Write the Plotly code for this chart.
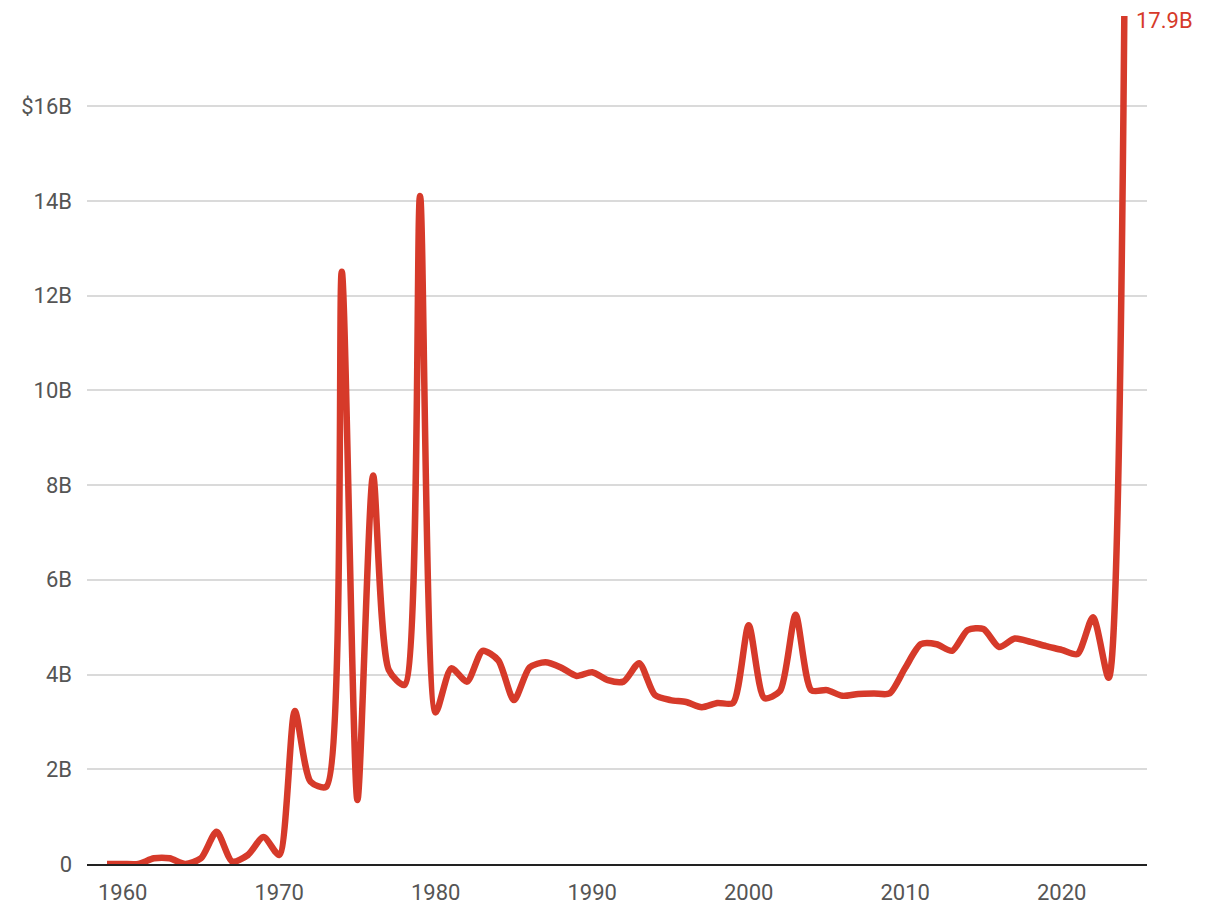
import plotly.graph_objects as go

years = list(range(1959, 2025))
values_b = [
    0.0, 0.0, 0.0, 0.12, 0.12, 0.0, 0.12, 0.68, 0.05, 0.19,
    0.57, 0.19, 3.23, 1.74, 1.63, 12.5, 1.35, 8.2, 4.1, 3.78,
    14.1, 3.2, 4.13, 3.85, 4.5, 4.3, 3.46, 4.15, 4.26, 4.15,
    3.97, 4.05, 3.88, 3.85, 4.24, 3.57, 3.46, 3.42, 3.31, 3.4,
    3.4, 5.04, 3.5, 3.65, 5.26, 3.67, 3.67, 3.55, 3.59, 3.6,
    3.6, 4.14, 4.64, 4.64, 4.5, 4.94, 4.96, 4.58, 4.76, 4.69,
    4.6, 4.52, 4.43, 5.21, 3.93, 17.9,
]
y_tickvals = [0, 2, 4, 6, 8, 10, 12, 14, 16]
y_ticktext = ["0", "2B", "4B", "6B", "8B", "10B", "12B", "14B", "$16B"]
x_tickvals = [1960, 1970, 1980, 1990, 2000, 2010, 2020]
last_label = "17.9B"

red = "#d63a2a"
grey = "#555555"
font_family = "Roboto"

fig = go.Figure()
fig.add_trace(go.Scatter(
    x=years, y=values_b, mode="lines",
    line=dict(color=red, width=6.5, shape="spline", smoothing=0.7),
    hoverinfo="x+y", showlegend=False,
))

fig.add_annotation(
    x=years[-1], y=values_b[-1], text=last_label, showarrow=False,
    xanchor="left", yanchor="middle", xshift=10, yshift=-4,
    font=dict(family=font_family, size=22, color=red),
)

fig.update_layout(
    width=1220, height=905,
    margin=dict(l=79, r=81, t=0, b=49),
    paper_bgcolor="white", plot_bgcolor="white",
    font=dict(family=font_family, size=22, color=grey),
    xaxis=dict(
        range=[1957.72, 2025.45], tickvals=x_tickvals,
        showgrid=False, zeroline=False,
        showline=True, linecolor="#222222", linewidth=2,
        ticks="", ticklabelstandoff=8,
        tickfont=dict(family=font_family, size=22, color=grey),
    ),
    yaxis=dict(
        range=[0, 18.07], tickvals=y_tickvals, ticktext=y_ticktext,
        showgrid=True, gridcolor="#dadada", gridwidth=2,
        zeroline=False, showline=False, ticks="",
        ticklabelstandoff=14,
        tickfont=dict(family=font_family, size=22, color=grey),
    ),
)

fig.write_html("out.html")
